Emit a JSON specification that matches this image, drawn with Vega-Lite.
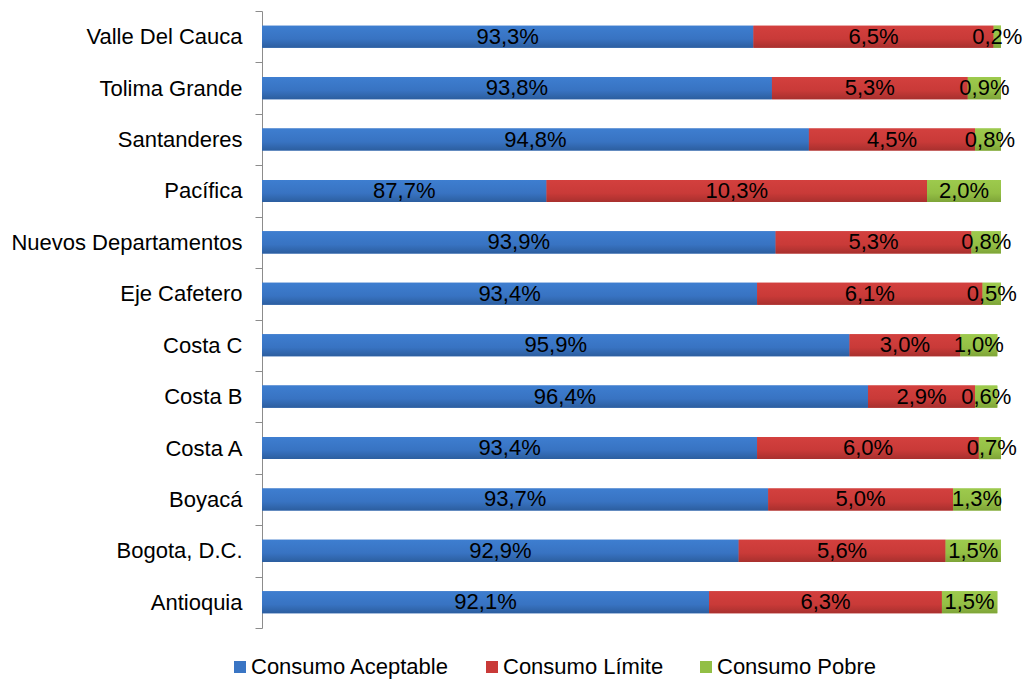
{
  "$schema": "https://vega.github.io/schema/vega-lite/v6.json",
  "width": 739,
  "height": 617,
  "autosize": {"type": "none"},
  "padding": {"left": 262, "top": 11, "right": 24, "bottom": 54},
  "config": {
    "view": {"stroke": null},
    "font": "Liberation Sans",
    "locale": {"number": {"decimal": ",", "thousands": ".", "grouping": [3], "currency": ["", " €"]}}
  },
  "data": {
    "values": [
      {"region": "Valle Del Cauca", "cat": "Consumo Aceptable", "order": 1, "value": 0.933},
      {"region": "Valle Del Cauca", "cat": "Consumo Límite", "order": 2, "value": 0.065},
      {"region": "Valle Del Cauca", "cat": "Consumo Pobre", "order": 3, "value": 0.002},
      {"region": "Tolima Grande", "cat": "Consumo Aceptable", "order": 1, "value": 0.938},
      {"region": "Tolima Grande", "cat": "Consumo Límite", "order": 2, "value": 0.053},
      {"region": "Tolima Grande", "cat": "Consumo Pobre", "order": 3, "value": 0.009},
      {"region": "Santanderes", "cat": "Consumo Aceptable", "order": 1, "value": 0.948},
      {"region": "Santanderes", "cat": "Consumo Límite", "order": 2, "value": 0.045},
      {"region": "Santanderes", "cat": "Consumo Pobre", "order": 3, "value": 0.008},
      {"region": "Pacífica", "cat": "Consumo Aceptable", "order": 1, "value": 0.877},
      {"region": "Pacífica", "cat": "Consumo Límite", "order": 2, "value": 0.103},
      {"region": "Pacífica", "cat": "Consumo Pobre", "order": 3, "value": 0.020},
      {"region": "Nuevos Departamentos", "cat": "Consumo Aceptable", "order": 1, "value": 0.939},
      {"region": "Nuevos Departamentos", "cat": "Consumo Límite", "order": 2, "value": 0.053},
      {"region": "Nuevos Departamentos", "cat": "Consumo Pobre", "order": 3, "value": 0.008},
      {"region": "Eje Cafetero", "cat": "Consumo Aceptable", "order": 1, "value": 0.934},
      {"region": "Eje Cafetero", "cat": "Consumo Límite", "order": 2, "value": 0.061},
      {"region": "Eje Cafetero", "cat": "Consumo Pobre", "order": 3, "value": 0.005},
      {"region": "Costa C", "cat": "Consumo Aceptable", "order": 1, "value": 0.959},
      {"region": "Costa C", "cat": "Consumo Límite", "order": 2, "value": 0.030},
      {"region": "Costa C", "cat": "Consumo Pobre", "order": 3, "value": 0.010},
      {"region": "Costa B", "cat": "Consumo Aceptable", "order": 1, "value": 0.964},
      {"region": "Costa B", "cat": "Consumo Límite", "order": 2, "value": 0.029},
      {"region": "Costa B", "cat": "Consumo Pobre", "order": 3, "value": 0.006},
      {"region": "Costa A", "cat": "Consumo Aceptable", "order": 1, "value": 0.934},
      {"region": "Costa A", "cat": "Consumo Límite", "order": 2, "value": 0.060},
      {"region": "Costa A", "cat": "Consumo Pobre", "order": 3, "value": 0.007},
      {"region": "Boyacá", "cat": "Consumo Aceptable", "order": 1, "value": 0.937},
      {"region": "Boyacá", "cat": "Consumo Límite", "order": 2, "value": 0.050},
      {"region": "Boyacá", "cat": "Consumo Pobre", "order": 3, "value": 0.013},
      {"region": "Bogota, D.C.", "cat": "Consumo Aceptable", "order": 1, "value": 0.929},
      {"region": "Bogota, D.C.", "cat": "Consumo Límite", "order": 2, "value": 0.056},
      {"region": "Bogota, D.C.", "cat": "Consumo Pobre", "order": 3, "value": 0.015},
      {"region": "Antioquia", "cat": "Consumo Aceptable", "order": 1, "value": 0.921},
      {"region": "Antioquia", "cat": "Consumo Límite", "order": 2, "value": 0.063},
      {"region": "Antioquia", "cat": "Consumo Pobre", "order": 3, "value": 0.015}
    ]
  },
  "transform": [
    {"stack": "value", "groupby": ["region"], "sort": [{"field": "order"}], "as": ["x0", "x1"]},
    {"calculate": "(max(datum.x0, 0.8) + datum.x1) / 2", "as": "mid"}
  ],
  "encoding": {
    "y": {
      "field": "region",
      "type": "nominal",
      "sort": ["Valle Del Cauca", "Tolima Grande", "Santanderes", "Pacífica", "Nuevos Departamentos", "Eje Cafetero", "Costa C", "Costa B", "Costa A", "Boyacá", "Bogota, D.C.", "Antioquia"],
      "scale": {"paddingInner": 0, "paddingOuter": 0},
      "axis": {
        "title": null,
        "labelFontSize": 22,
        "labelColor": "#000000",
        "labelPadding": 13,
        "labelLimit": 400,
        "tickBand": "extent",
        "tickSize": 7,
        "tickColor": "#8c8c8c",
        "domainColor": "#8c8c8c",
        "grid": false
      }
    },
    "x": {"field": "x0", "type": "quantitative", "scale": {"domain": [0.8, 1.0], "nice": false, "zero": false}, "axis": null},
    "x2": {"field": "x1"}
  },
  "layer": [
    {
      "mark": {"type": "bar", "clip": true, "height": {"band": 0.43}},
      "encoding": {
        "color": {
          "field": "cat",
          "type": "nominal",
          "scale": {"domain": ["Consumo Aceptable", "Consumo Límite", "Consumo Pobre"], "range": ["#3a75c4", "#c93a38", "#92bf45"]},
          "legend": {
            "title": null,
            "orient": "none",
            "legendX": -33,
            "legendY": 645,
            "direction": "horizontal",
            "symbolType": "square",
            "symbolSize": 144,
            "symbolStrokeWidth": 0,
            "labelFontSize": 22,
            "labelColor": "#000000",
            "labelOffset": 0,
            "labelLimit": 400,
            "columnPadding": 31
          }
        }
      }
    },
    {
      "transform": [{"filter": "datum.cat === 'Consumo Aceptable'"}],
      "mark": {"type": "bar", "clip": true, "height": {"band": 0.43},
        "fill": {"gradient": "linear", "x1": 0, "y1": 0, "x2": 0, "y2": 1,
          "stops": [{"offset": 0, "color": "#3e7ed0"}, {"offset": 0.6, "color": "#3873c2"}, {"offset": 1, "color": "#2c5e9f"}]}}
    },
    {
      "transform": [{"filter": "datum.cat === 'Consumo Límite'"}],
      "mark": {"type": "bar", "clip": true, "height": {"band": 0.43},
        "fill": {"gradient": "linear", "x1": 0, "y1": 0, "x2": 0, "y2": 1,
          "stops": [{"offset": 0, "color": "#d3403e"}, {"offset": 0.6, "color": "#c93a38"}, {"offset": 1, "color": "#a8302e"}]}}
    },
    {
      "transform": [{"filter": "datum.cat === 'Consumo Pobre'"}],
      "mark": {"type": "bar", "clip": true, "height": {"band": 0.43},
        "fill": {"gradient": "linear", "x1": 0, "y1": 0, "x2": 0, "y2": 1,
          "stops": [{"offset": 0, "color": "#9dca4d"}, {"offset": 0.6, "color": "#94bf45"}, {"offset": 1, "color": "#7ea438"}]}}
    },
    {
      "mark": {"type": "text", "fontSize": 22, "color": "#000000"},
      "encoding": {
        "x": {"field": "mid", "type": "quantitative"},
        "x2": null,
        "text": {"field": "value", "type": "quantitative", "format": ".1%"}
      }
    }
  ]
}
